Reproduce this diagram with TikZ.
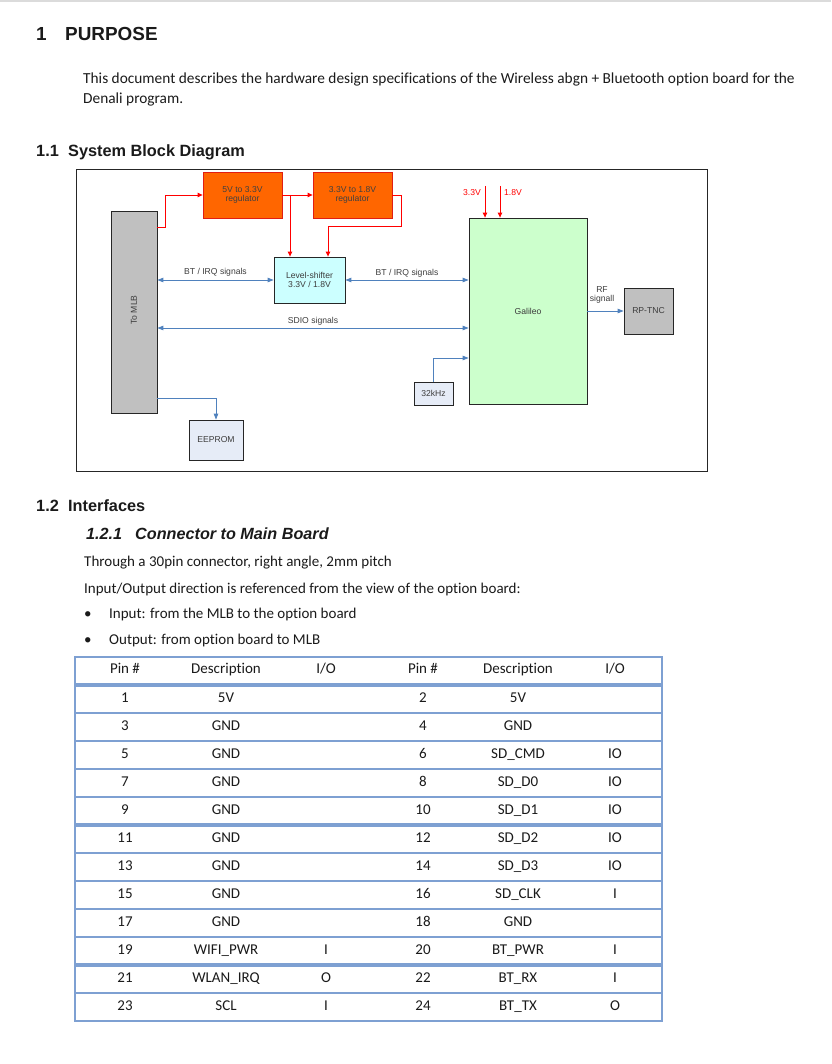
\documentclass[tikz,border=0pt]{standalone}
\usepackage{fontspec}
\setmainfont{Carlito}[Ligatures=NoCommon]
\newfontfamily\arial{Liberation Sans}
\usetikzlibrary{arrows.meta}
\definecolor{orng}{RGB}{255,102,0}
\definecolor{regborder}{RGB}{225,30,20}
\definecolor{lsfill}{RGB}{204,255,255}
\definecolor{galfill}{RGB}{204,255,204}
\definecolor{grayblk}{RGB}{192,192,192}
\definecolor{lblue}{RGB}{230,236,247}
\definecolor{bline}{RGB}{79,129,189}
\definecolor{tblue}{RGB}{126,160,210}
\definecolor{txt}{RGB}{26,26,26}
\definecolor{dtxt}{RGB}{60,60,60}
\begin{document}
\begin{tikzpicture}[x=1pt,y=-1pt,
  blk/.style={draw=black!85, line width=0.8pt, inner sep=0pt, align=center,
    font=\arial\fontsize{8.6}{9.5}\selectfont, text=dtxt},
  reg/.style={blk, fill=orng, draw=regborder, text=black!75},
  rl/.style={draw=red, line width=0.9pt, -{Triangle[length=5pt,width=4.5pt]}},
  bl1/.style={draw=bline, line width=0.9pt, -{Triangle[length=6pt,width=4.5pt]}},
  bl2/.style={draw=bline, line width=0.9pt, {Triangle[length=6pt,width=4.5pt]}-{Triangle[length=6pt,width=4.5pt]}},
  lbl/.style={inner sep=0pt, font=\arial\fontsize{8.6}{9.5}\selectfont, text=dtxt},
  rlbl/.style={inner sep=0pt, font=\arial\fontsize{8.6}{9.5}\selectfont, text=red},
  hone/.style={anchor=base west, inner sep=0pt, font=\arial\bfseries\fontsize{18.9}{22}\selectfont, text=txt},
  htwo/.style={anchor=base west, inner sep=0pt, font=\arial\bfseries\fontsize{16.3}{19}\selectfont, text=txt},
  hthree/.style={anchor=base west, inner sep=0pt, font=\arial\bfseries\itshape\fontsize{16.2}{19}\selectfont, text=txt},
  body/.style={anchor=base west, inner sep=0pt, font=\fontsize{15}{18}\selectfont, text=txt},
  para/.style={body, font=\fontsize{15.35}{18}\selectfont},
  cell/.style={anchor=base, inner sep=0pt, font=\fontsize{15}{18}\selectfont, text=txt},
  tl/.style={draw=tblue, line width=2pt},
  tlt/.style={draw=tblue, line width=3.5pt}
]
\useasboundingbox (0,0) rectangle (831,1064);
\fill[black!14] (0,0) rectangle (831,2);

% headings and text
\node[hone] (h1n) at (36,40.5) {1};
\node[hone] (h1) at (65,40.5) {PURPOSE};
\node[para] (p1) at (83,83.5) {This document describes the hardware design specifications of the Wireless abgn + Bluetooth option board for the};
\node[para] (p2) at (83,103.5) {Denali program.};
\node[htwo] (h11n) at (36,157) {1.1};
\node[htwo] (h11) at (68,157) {System Block Diagram};

% diagram frame
\draw[line width=0.8pt, draw=black!85] (76,169) rectangle (707,471);

% blocks
\node[blk, fill=grayblk, minimum width=46, minimum height=202] (mlb) at (134,312) {};
\node[lbl, rotate=90] (mlbt) at (134,310) {To MLB};
\node[reg, minimum width=79, minimum height=46] (reg1) at (242.5,195) {5V to 3.3V\\regulator};
\node[reg, minimum width=79, minimum height=46] (reg2) at (352.5,195) {3.3V to 1.8V\\regulator};
\node[blk, fill=lsfill, minimum width=71, minimum height=46] (ls) at (309.5,280) {Level-shifter\\3.3V / 1.8V};
\node[blk, fill=galfill, minimum width=118, minimum height=186] (gal) at (528,311) {Galileo};
\node[blk, fill=grayblk, minimum width=49, minimum height=46] (rp) at (648.5,311) {RP-TNC};
\node[blk, fill=lblue, minimum width=39, minimum height=23] (k32) at (433.5,393.5) {32kHz};
\node[blk, fill=lblue, minimum width=54, minimum height=40] (eep) at (216,440) {EEPROM};

% red power connectors
\draw[rl] (mlb.east |- 0,227) -- (165,227) |- (reg1.west);
\draw[rl] (reg1.east) -- (reg2.west);
\draw[rl] (reg1.east -| 290,0) -- (ls.north -| 290,0);
\draw[rl] (reg2.east) -- (401,195) |- (328,226) -- (ls.north -| 328,0);
\coordinate (v33) at (485,186);
\coordinate (v18) at (500,186);
\draw[rl] (v33) -- (gal.north -| v33);
\draw[rl] (v18) -- (gal.north -| v18);
\node[rlbl, anchor=east] (t33) at (481,193) {3.3V};
\node[rlbl, anchor=west] (t18) at (504,193) {1.8V};

% blue signal connectors
\draw[bl2] (mlb.east |- ls.west) -- (ls.west) node[lbl, midway, above=3pt] (bt1) {BT / IRQ signals};
\draw[bl2] (ls.east) -- (gal.west |- ls.east) node[lbl, midway, above=2pt] (bt2) {BT / IRQ signals};
\draw[bl2] (mlb.east |- 0,328) -- (gal.west |- 0,328) node[lbl, midway, above=2pt] (sdio) {SDIO signals};
\draw[bl1] (k32.north) |- (gal.west |- 0,358);
\draw[bl1] (mlb.east |- 0,398) -| (eep.north);
\draw[bl1] (gal.east |- rp.west) -- (rp.west);
\node[lbl, align=center] (rf) at (602,295) {RF\\signall};

% interfaces
\node[htwo] (h12n) at (36,511) {1.2};
\node[htwo] (h12) at (68,511) {Interfaces};
\node[hthree] (h121n) at (86,539) {1.2.1};
\node[hthree] (h121) at (135,539) {Connector to Main Board};
\node[body] (l1) at (84,566) {Through a 30pin connector, right angle, 2mm pitch};
\node[body] (l2) at (84,593) {Input/Output direction is referenced from the view of the option board:};
\node[body] (b1) at (84,618.5) {•};
\node[body] (l3) at (109,618.5) {Input: from the MLB to the option board};
\node[body] (b2) at (84,644.5) {•};
\node[body] (l4) at (109,644.5) {Output: from option board to MLB};

% table grid
\draw[tl] (75,657) -- (662,657);
\foreach \k in {1,...,12} {
  \pgfmathsetmacro{\yy}{685+28*\k}
  \draw[tl] (75,\yy) -- (662,\yy);
}
\draw[tlt] (75,685) -- (662,685);
\draw[tlt] (75,825) -- (662,825);
\draw[tlt] (75,965) -- (662,965);
\draw[tl] (75,656) -- (75,1022);
\draw[tl] (662,656) -- (662,1022);

% table header
\node[cell] (hp1) at (125,673) {Pin \#};
\node[cell] (hd1) at (226,673) {Description};
\node[cell] (hi1) at (326,673) {I/O};
\node[cell] (hp2) at (423,673) {Pin \#};
\node[cell] (hd2) at (518,673) {Description};
\node[cell] (hi2) at (615,673) {I/O};

% table rows
\foreach \a/\b/\c/\d/\e/\f [count=\k] in {
  1/5V/{}/2/5V/{},
  3/GND/{}/4/GND/{},
  5/GND/{}/6/SD\_CMD/IO,
  7/GND/{}/8/SD\_D0/IO,
  9/GND/{}/10/SD\_D1/IO,
  11/GND/{}/12/SD\_D2/IO,
  13/GND/{}/14/SD\_D3/IO,
  15/GND/{}/16/SD\_CLK/I,
  17/GND/{}/18/GND/{},
  19/WIFI\_PWR/I/20/BT\_PWR/I,
  21/WLAN\_IRQ/O/22/BT\_RX/I,
  23/SCL/I/24/BT\_TX/O} {
  \pgfmathsetmacro{\yy}{702+28*(\k-1)}
  \node[cell] (ra\k) at (125,\yy) {\a};
  \node[cell] (rb\k) at (226,\yy) {\b};
  \node[cell] (rc\k) at (326,\yy) {\c};
  \node[cell] (rd\k) at (423,\yy) {\d};
  \node[cell] (re\k) at (518,\yy) {\e};
  \node[cell] (rf\k) at (615,\yy) {\f};
}
\end{tikzpicture}
\end{document}
